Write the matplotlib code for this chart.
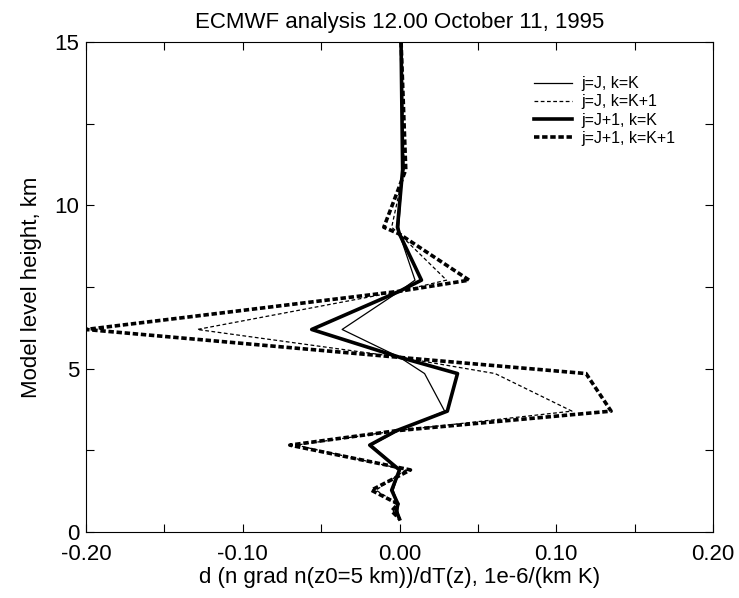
import matplotlib
matplotlib.use("Agg")
import matplotlib.pyplot as plt
from matplotlib.ticker import MultipleLocator, FormatStrFormatter

plt.rcParams['font.family'] = ['Liberation Sans', 'DejaVu Sans']

levels = [15.0, 11.09, 9.33, 9.12, 7.71, 7.37, 6.20, 5.35, 4.85, 3.70, 3.10, 2.66, 1.90, 1.28, 0.86, 0.64, 0.40]

jJ_kK = [0.001, 0.002, -0.0005, 0.0, 0.0099, 0.0, -0.0366, 0.0, 0.016, 0.0288, -0.001, -0.0178, 0.0, -0.004, -0.001, -0.001, 0.0]
jJ_kK1 = [0.001, 0.003, -0.005, 0.0, 0.030, 0.0, -0.129, 0.0, 0.061, 0.110, -0.002, -0.066, 0.004, -0.015, -0.001, -0.004, 0.0]
jJ1_kK = [0.001, 0.002, -0.0013, 0.0, 0.014, 0.0, -0.056, 0.0, 0.037, 0.0305, -0.002, -0.019, 0.0, -0.005, -0.001, -0.002, 0.0]
jJ1_kK1 = [0.001, 0.004, -0.010, 0.0, 0.0444, 0.0, -0.200, -0.001, 0.119, 0.135, -0.002, -0.070, 0.007, -0.018, -0.001, -0.005, 0.0]

labels = ["j=J, k=K", "j=J, k=K+1", "j=J+1, k=K", "j=J+1, k=K+1"]

FS = 16

fig = plt.figure(figsize=(7.39, 5.98), dpi=100)
ax = fig.add_axes([86 / 739, 66 / 598, 627 / 739, 490 / 598])

ax.plot(jJ_kK, levels, color='black', lw=0.9, ls='-', label=labels[0])
ax.plot(jJ_kK1, levels, color='black', lw=0.9, ls=(0, (3, 2)), label=labels[1])
ax.plot(jJ1_kK, levels, color='black', lw=2.6, ls='-', label=labels[2])
ax.plot(jJ1_kK1, levels, color='black', lw=2.6, ls=(0, (1.5, 0.75)), label=labels[3])

ax.set_xlim(-0.2, 0.2)
ax.set_ylim(0, 15)
ax.xaxis.set_major_locator(MultipleLocator(0.1))
ax.xaxis.set_minor_locator(MultipleLocator(0.05))
ax.yaxis.set_major_locator(MultipleLocator(5))
ax.yaxis.set_minor_locator(MultipleLocator(2.5))
ax.xaxis.set_major_formatter(FormatStrFormatter('%.2f'))
ax.tick_params(which='both', direction='in', top=True, right=True, length=6, width=0.8,
               labelsize=FS)
ax.tick_params(axis='x', which='both', pad=9)
ax.tick_params(axis='y', which='both', pad=5)

ax.set_title("ECMWF analysis 12.00 October 11, 1995", fontsize=FS, pad=10)
ax.set_xlabel("d (n grad n(z0=5 km))/dT(z), 1e-6/(km K)", fontsize=FS, labelpad=1)
ax.set_ylabel("Model level height, km", fontsize=FS, labelpad=9)

leg = ax.legend(loc='upper left', bbox_to_anchor=(0.7145, 0.93), frameon=False, fontsize=11.5,
                borderaxespad=0, borderpad=0,
                handlelength=2.4, handletextpad=0.55, labelspacing=0.2)

fig.savefig("out.png", dpi=100)
